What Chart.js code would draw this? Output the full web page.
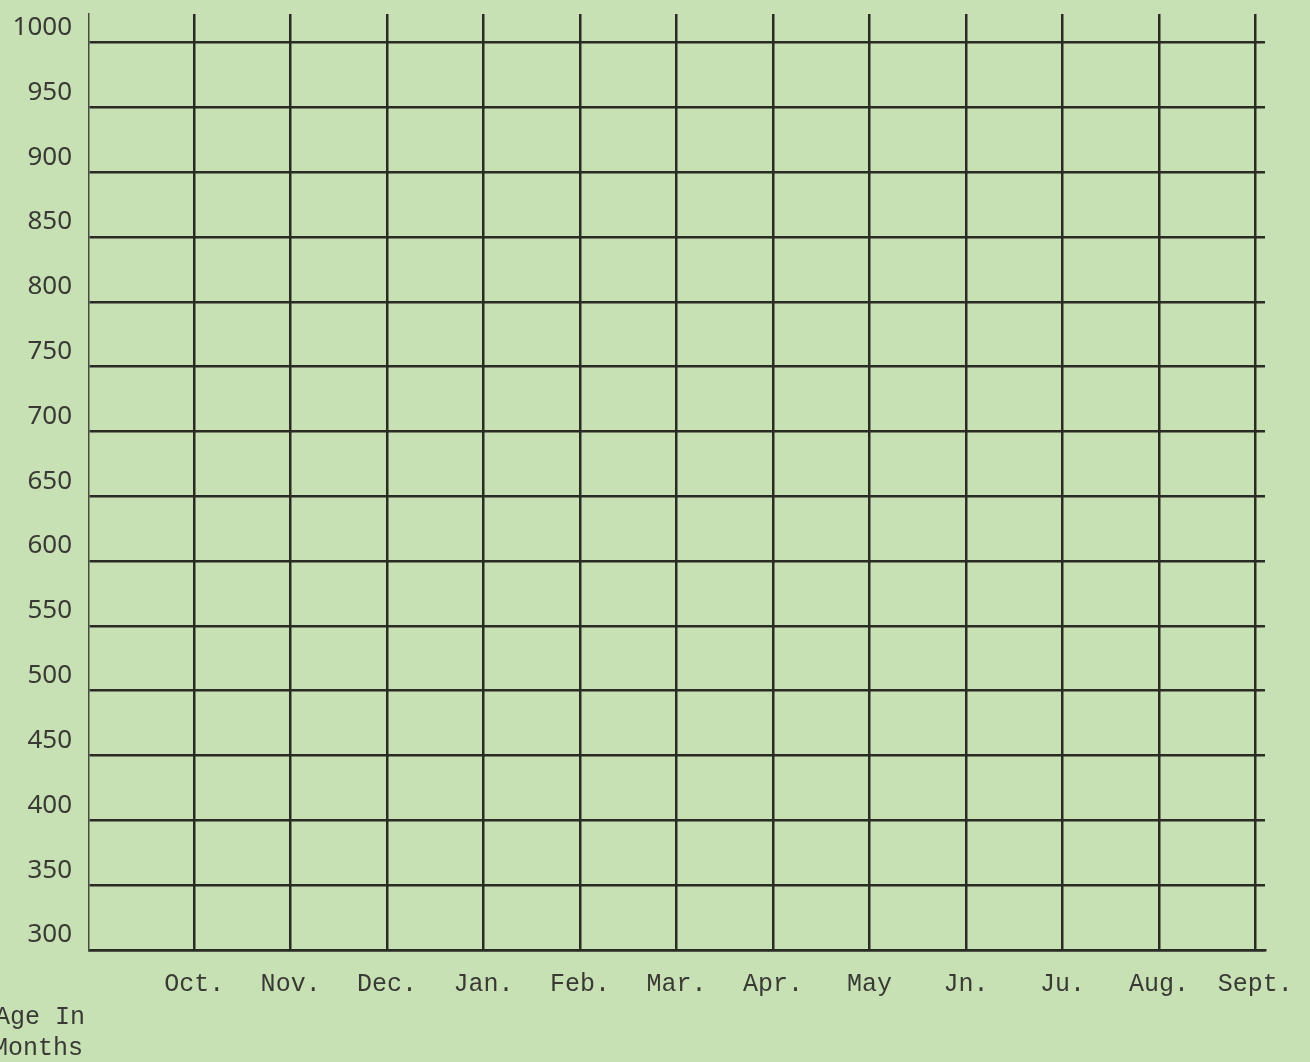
<!DOCTYPE html>
<html>
<head>
<meta charset="utf-8">
<script src="https://cdn.jsdelivr.net/npm/chart.js@4"></script>
<style>
  html, body { margin: 0; padding: 0; background: #c7e1b5; }
  #wrap { width: 1310px; height: 1062px; position: relative; }
</style>
</head>
<body>
<div id="wrap"><canvas id="myChart"></canvas></div>
<script>
// Blank record sheet: month columns and score rows
const months = ["Oct.", "Nov.", "Dec.", "Jan.", "Feb.", "Mar.", "Apr.", "May", "Jn.", "Ju.", "Aug.", "Sept."];
const yTicks = [300, 350, 400, 450, 500, 550, 600, 650, 700, 750, 800, 850, 900, 950, 1000];
const cornerLabel = ["Age In", "Months"];

const ink = "#2b2b25";

// writes the "Age In Months" note in the lower left corner
const cornerNote = {
    id: 'cornerNote',
    afterDraw(chart) {
        const ctx = chart.ctx;
        ctx.save();
        ctx.fillStyle = "#3a3a35";
        ctx.font = "25px 'Liberation Mono', monospace";
        ctx.textBaseline = "middle";
        ctx.fillText(cornerLabel[0], -5, 1017);
        ctx.fillText(cornerLabel[1], -7, 1048);
        ctx.restore();
    }
};

const config = {
    type: 'line',
    data: {
        datasets: [{ data: [], showLine: false }]
    },
    options: {
        responsive: true,
        maintainAspectRatio: false,
        animation: false,
        layout: { padding: { top: 14, right: 45, left: 0, bottom: 0 } },
        plugins: { legend: { display: false }, tooltip: { enabled: false } },
        scales: {
            x: {
                type: 'linear',
                min: -1.09,
                max: 11.1,
                afterBuildTicks: axis => { axis.ticks = months.map((m, i) => ({ value: i })); },
                afterFit: s => { s.height = 112; s.paddingLeft = 0; s.paddingRight = 0; },
                grid: { color: ink, lineWidth: 2.5, drawTicks: false },
                border: { color: ink, width: 2.5 },
                ticks: {
                    padding: 19,
                    color: "#3a3a35",
                    font: { family: "'Liberation Mono', monospace", size: 25 },
                    callback: v => months[v]
                }
            },
            y: {
                type: 'linear',
                min: 300,
                max: 1022,
                afterBuildTicks: axis => { axis.ticks = yTicks.map(v => ({ value: v })); },
                afterFit: s => { s.width = 89; s.paddingTop = 0; s.paddingBottom = 0; },
                grid: { color: ink, lineWidth: 2.5, drawTicks: false },
                border: { color: "#4a4a42", width: 1.5 },
                ticks: {
                    padding: 17,
                    labelOffset: -15,
                    color: "#3a3a35",
                    font: { family: "'Noto Sans', sans-serif", size: 26 },
                    callback: v => String(v)
                }
            }
        }
    },
    plugins: [cornerNote]
};

const myChart = new Chart(document.getElementById('myChart'), config);
</script>
</body>
</html>
